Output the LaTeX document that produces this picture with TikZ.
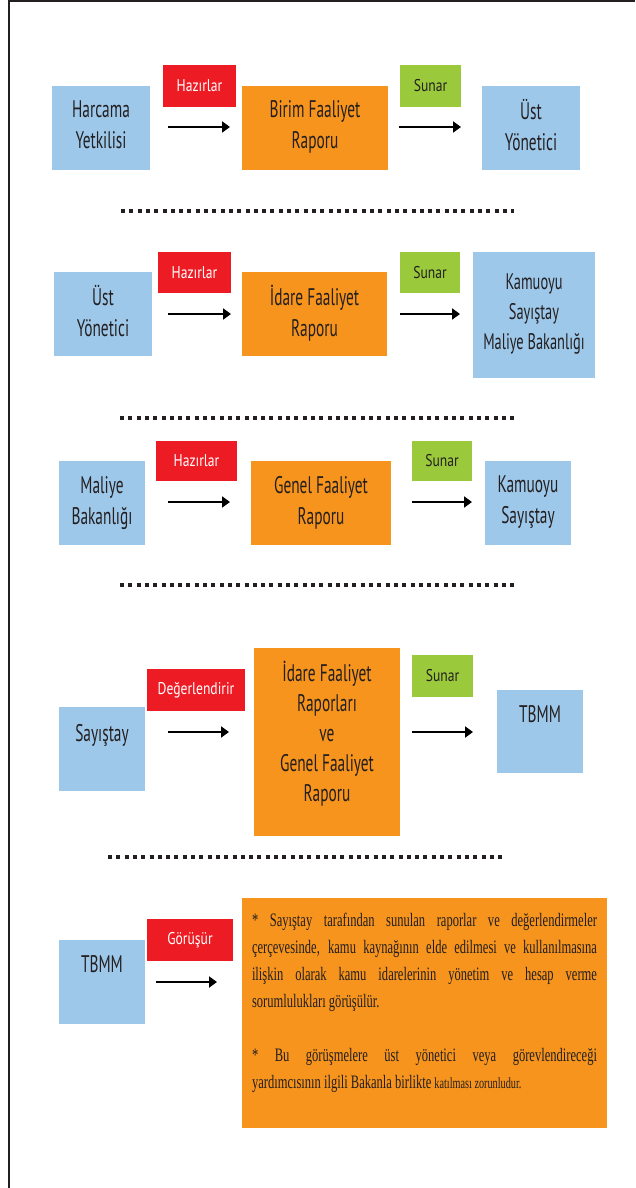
\documentclass[tikz,border=0pt]{standalone}
\usepackage{fontspec}
\usepackage{xcolor}
\usepackage{tikz}
\usetikzlibrary{arrows.meta}
\newfontfamily\kutufont[FakeStretch=0.64]{PT Sans}
\newfontfamily\etiketfont[FakeStretch=0.8]{PT Sans}
\newfontfamily\notfont[FakeStretch=0.66]{Liberation Serif}
\definecolor{kmavi}{RGB}{158,200,234}
\definecolor{kturuncu}{RGB}{247,148,29}
\definecolor{kkirmizi}{RGB}{237,28,36}
\definecolor{kyesil}{RGB}{154,202,60}
\definecolor{kyazi}{RGB}{35,31,32}

\begin{document}
\begin{tikzpicture}[x=1pt,y=-1pt,
    mavi/.style={fill=kmavi,text=kyazi,align=center,inner sep=0pt,text depth=6pt,
      font=\kutufont\fontsize{24}{31}\selectfont},
    turuncu/.style={mavi,fill=kturuncu},
    yazi/.style={text=kyazi,inner sep=0pt,font=\kutufont\fontsize{24}{31}\selectfont},
    kirmizi/.style={fill=kkirmizi,text=white,inner sep=0pt,
      font=\etiketfont\fontsize{17}{20}\selectfont},
    yesil/.style={kirmizi,fill=kyesil,text=kyazi},
    ok/.style={line width=2pt,-{Triangle[length=8pt,width=11pt]}},
    nokta/.style={kyazi,line width=4.5pt,dash pattern=on 4pt off 4.3pt}]
  \useasboundingbox[fill=white] (0,0) rectangle (635,1188);
  \draw[kyazi,line width=2pt] (635,1) -- (9,1) -- (9,1188);

  % 1. satir
  \node[mavi,minimum width=98,minimum height=84] (hy) at (101,128) {Harcama\\Yetkilisi};
  \node[kirmizi,minimum width=73,minimum height=42] (hz1) at (199.5,86) {Hazırlar};
  \node[turuncu,minimum width=146,minimum height=84] (bfr) at (315,128) {Birim Faaliyet\\Raporu};
  \node[yesil,minimum width=61,minimum height=42] (sn1) at (430.5,86) {Sunar};
  \node[mavi,minimum width=98,minimum height=84] (uy1) at (531,128) {Üst\\Yönetici};
  \coordinate (o1a) at (168,127); \coordinate (o1b) at (230,127);
  \coordinate (o2a) at (399,127); \coordinate (o2b) at (461,127);
  \draw[ok] (o1a) -- (o1b);
  \draw[ok] (o2a) -- (o2b);
  \coordinate (n1a) at (121,211); \coordinate (n1b) at (514,211);
  \draw[nokta] (n1a) -- (n1b);

  % 2. satir
  \node[mavi,minimum width=98,minimum height=84] (uy2) at (103,314) {Üst\\Yönetici};
  \node[kirmizi,minimum width=73,minimum height=41] (hz2) at (194.5,272.5) {Hazırlar};
  \node[turuncu,minimum width=145,minimum height=84] (ifr) at (314.5,314) {İdare Faaliyet\\Raporu};
  \node[yesil,minimum width=60,minimum height=41] (sn2) at (430,272.5) {Sunar};
  \node[mavi,minimum width=122,minimum height=126,font=\kutufont\fontsize{22.5}{30}\selectfont]
    (ksm) at (534,315) {Kamuoyu\\Sayıştay\\Maliye Bakanlığı};
  \coordinate (o3a) at (168,314); \coordinate (o3b) at (231,314);
  \coordinate (o4a) at (400,314); \coordinate (o4b) at (460,314);
  \draw[ok] (o3a) -- (o3b);
  \draw[ok] (o4a) -- (o4b);
  \coordinate (n2a) at (120,418); \coordinate (n2b) at (515,418);
  \draw[nokta] (n2a) -- (n2b);

  % 3. satir
  \node[mavi,minimum width=86,minimum height=84] (mb) at (102,503) {Maliye\\Bakanlığı};
  \node[kirmizi,minimum width=81,minimum height=40] (hz3) at (196.5,461) {Hazırlar};
  \node[turuncu,minimum width=140,minimum height=84] (gfr) at (321,503) {Genel Faaliyet\\Raporu};
  \node[yesil,minimum width=60,minimum height=40] (sn3) at (442,461) {Sunar};
  \node[mavi,minimum width=86,minimum height=84] (ks) at (528,503) {Kamuoyu\\Sayıştay};
  \coordinate (o5a) at (168,502); \coordinate (o5b) at (230,502);
  \coordinate (o6a) at (412,502); \coordinate (o6b) at (472,502);
  \draw[ok] (o5a) -- (o5b);
  \draw[ok] (o6a) -- (o6b);
  \coordinate (n3a) at (120,585); \coordinate (n3b) at (515,585);
  \draw[nokta] (n3a) -- (n3b);

  % 4. satir
  \node[mavi,minimum width=86,minimum height=84] (say) at (102,749) {};
  \node[yazi,anchor=base] (sayy) at ([yshift=-35pt]say.north) {Sayıştay};
  \node[kirmizi,minimum width=98,minimum height=42] (deg) at (196,690) {Değerlendirir};
  \node[turuncu,minimum width=146,minimum height=188,text depth=22pt,
    font=\kutufont\fontsize{24}{30}\selectfont] (irgr) at (327,742)
    {İdare Faaliyet\\Raporları\\ve\\Genel Faaliyet\\Raporu};
  \node[yesil,minimum width=61,minimum height=42] (sn4) at (442.5,676) {Sunar};
  \node[mavi,minimum width=86,minimum height=83] (tb1) at (540,731.5) {};
  \node[yazi,anchor=base] (tb1y) at ([yshift=-33pt]tb1.north) {TBMM};
  \coordinate (o7a) at (168,732); \coordinate (o7b) at (229,732);
  \coordinate (o8a) at (412,732); \coordinate (o8b) at (473,732);
  \draw[ok] (o7a) -- (o7b);
  \draw[ok] (o8a) -- (o8b);
  \coordinate (n4a) at (108,857); \coordinate (n4b) at (503,857);
  \draw[nokta] (n4a) -- (n4b);

  % 5. satir
  \node[mavi,minimum width=86,minimum height=84] (tb2) at (102,982) {};
  \node[yazi,anchor=base] (tb2y) at ([yshift=-33pt]tb2.north) {TBMM};
  \node[kirmizi,minimum width=86,minimum height=42] (gor) at (190,940) {Görüşür};
  \coordinate (o9a) at (156,982); \coordinate (o9b) at (217,982);
  \draw[ok] (o9a) -- (o9b);
  \node[fill=kturuncu,minimum width=365,minimum height=230,inner sep=0pt] (not) at (424.5,1013) {};
  \node[anchor=north west,text width=345pt,align=justify,inner sep=0pt,text=kyazi,
    font=\notfont\fontsize{19}{27}\selectfont] (noty) at ([xshift=10pt,yshift=-15pt]not.north west)
    {\hyphenpenalty=10000
     * Sayıştay tarafından sunulan raporlar ve değerlendirmeler\linebreak
     çerçevesinde, kamu kaynağının elde edilmesi ve kullanılmasına\linebreak
     ilişkin olarak kamu idarelerinin yönetim ve hesap verme\linebreak
     sorumlulukları görüşülür.\par\vspace{27pt}
     * Bu görüşmelere üst yönetici veya görevlendireceği\linebreak
     yardımcısının ilgili Bakanla birlikte {\fontsize{15.5}{27}\selectfont katılması zorunludur.}};
\end{tikzpicture}
\end{document}
